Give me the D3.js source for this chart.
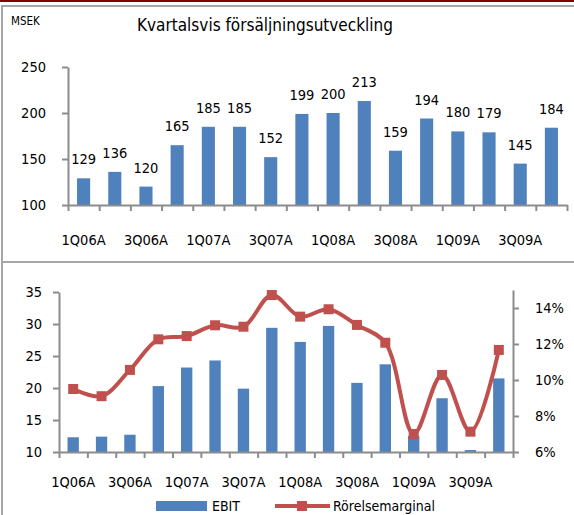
<!DOCTYPE html>
<html>
<head>
<meta charset="utf-8">
<script src="https://cdn.jsdelivr.net/npm/d3@7/dist/d3.min.js"></script>
<style>
  html, body { margin: 0; padding: 0; background: #fff; }
  svg text { font-family: "DejaVu Sans Condensed", "DejaVu Sans", sans-serif; fill: #000; }
  .axis path, .axis line { stroke: #8c8c8c; stroke-width: 2; }
</style>
</head>
<body>
<div id="chart"></div>
<script>
// Data
const quarters = ['1Q06A', '2Q06A', '3Q06A', '4Q06A', '1Q07A', '2Q07A', '3Q07A', '4Q07A',
  '1Q08A', '2Q08A', '3Q08A', '4Q08A', '1Q09A', '2Q09A', '3Q09A', '4Q09A'];
const sales = [129, 136, 120, 165, 185, 185, 152, 199, 200, 213, 159, 194, 180, 179, 145, 184];
const ebit = [12.3, 12.4, 12.7, 20.3, 23.2, 24.3, 19.9, 29.4, 27.2, 29.7, 20.8, 23.7, 12.5, 18.4, 10.3, 21.5];
const margin = [0.095, 0.091, 0.1056, 0.1226, 0.1244, 0.1304, 0.1296, 0.1472,
  0.1352, 0.1393, 0.1306, 0.1207, 0.070, 0.1028, 0.0713, 0.1167];
const salesTicks = [100, 150, 200, 250];
const ebitTicks = [10, 15, 20, 25, 30, 35];
const marginTicks = [0.06, 0.08, 0.10, 0.12, 0.14];

const W = 574;
const H = 515;
const barColor = '#4f81bd';
const lineColor = '#c0504d';
const fs = '14.5px';

const svg = d3.select('#chart').append('svg')
  .attr('width', W)
  .attr('height', H);

// frame: red rule on top, grey box, divider between the panels
svg.append('rect').attr('x', 0).attr('y', 0).attr('width', W).attr('height', 2).attr('fill', '#7f0000');
svg.append('path')
  .attr('d', `M${W},6 H2 V${H}`)
  .attr('fill', 'none').attr('stroke', '#a6a6a6').attr('stroke-width', 2);
svg.append('line')
  .attr('x1', 2).attr('x2', W).attr('y1', 262).attr('y2', 262)
  .attr('stroke', '#a6a6a6').attr('stroke-width', 2);

// ---------- top panel: sales ----------
svg.append('text').attr('x', 11).attr('y', 25).style('font-size', '11.5px').text('MSEK');
svg.append('text').attr('x', 265).attr('y', 31).attr('text-anchor', 'middle')
  .style('font-size', '17px').text('Kvartalsvis försäljningsutveckling');

const x1 = d3.scaleBand().domain(quarters).range([68, 567]).paddingInner(0.58).paddingOuter(0.29);
const slot1 = d3.scaleLinear().domain([0, quarters.length]).range([68, 567]);
const y1 = d3.scaleLinear().domain([100, 250]).range([205, 67]);

svg.selectAll('.sbar').data(sales).enter().append('rect')
  .attr('class', 'sbar')
  .attr('x', (d, i) => x1(quarters[i]))
  .attr('width', x1.bandwidth())
  .attr('y', (d) => y1(d))
  .attr('height', (d) => y1(100) - y1(d))
  .attr('fill', barColor);

svg.selectAll('.slabel').data(sales).enter().append('text')
  .attr('class', 'slabel')
  .attr('x', (d, i) => x1(quarters[i]) + x1.bandwidth() / 2)
  .attr('y', (d) => y1(d) - 14)
  .attr('text-anchor', 'middle')
  .style('font-size', fs)
  .text((d) => d);

const gy1 = svg.append('g').attr('class', 'axis').attr('transform', 'translate(68,0)')
  .call(d3.axisLeft(y1).tickValues(salesTicks).tickSize(6).tickPadding(16).tickSizeOuter(0));
gy1.selectAll('text').style('font-size', fs);

svg.append('g').attr('class', 'axis').attr('transform', 'translate(0,205)')
  .call(d3.axisBottom(slot1).tickValues(d3.range(quarters.length + 1)).tickSize(6).tickFormat('').tickSizeOuter(0));

const gx1 = svg.append('g').attr('transform', 'translate(0,205)')
  .call(d3.axisBottom(x1).tickSize(0).tickPadding(30).tickFormat((d, i) => (i % 2 ? '' : d)));
gx1.select('.domain').remove();
gx1.selectAll('text').style('font-size', fs);

// ---------- bottom panel: EBIT and margin ----------
const x2 = d3.scaleBand().domain(quarters).range([59, 513]).paddingInner(0.6).paddingOuter(0.3);
const slot2 = d3.scaleLinear().domain([0, quarters.length]).range([59, 513]);
const y2 = d3.scaleLinear().domain([10, 35]).range([452, 292]);
const yR = d3.scaleLinear().domain([0.06, 0.15]).range([452, 290]);

svg.selectAll('.ebar').data(ebit).enter().append('rect')
  .attr('class', 'ebar')
  .attr('x', (d, i) => x2(quarters[i]))
  .attr('width', x2.bandwidth())
  .attr('y', (d) => y2(d))
  .attr('height', (d) => y2(10) - y2(d))
  .attr('fill', barColor);

const gy2 = svg.append('g').attr('class', 'axis').attr('transform', 'translate(59,0)')
  .call(d3.axisLeft(y2).tickValues(ebitTicks).tickSize(6).tickPadding(11).tickSizeOuter(0));
gy2.selectAll('text').style('font-size', fs);

const gyR = svg.append('g').attr('class', 'axis').attr('transform', 'translate(513,0)')
  .call(d3.axisRight(yR).tickValues(marginTicks).tickSize(6).tickPadding(16)
    .tickSizeOuter(0).tickFormat(d3.format('.0%')));
gyR.selectAll('text').style('font-size', fs);

svg.append('g').attr('class', 'axis').attr('transform', 'translate(0,452)')
  .call(d3.axisBottom(slot2).tickValues(d3.range(quarters.length + 1)).tickSize(6).tickFormat('').tickSizeOuter(0));

const gx2 = svg.append('g').attr('transform', 'translate(0,452)')
  .call(d3.axisBottom(x2).tickSize(0).tickPadding(25).tickFormat((d, i) => (i % 2 ? '' : d)));
gx2.select('.domain').remove();
gx2.selectAll('text').style('font-size', fs);

const cx = (i) => x2(quarters[i]) + x2.bandwidth() / 2;
const line = d3.line()
  .x((d, i) => cx(i))
  .y((d) => yR(d))
  .curve(d3.curveCatmullRom.alpha(0.5));

svg.append('path').datum(margin)
  .attr('d', line)
  .attr('fill', 'none')
  .attr('stroke', lineColor)
  .attr('stroke-width', 4)
  .attr('stroke-linejoin', 'round');

svg.selectAll('.mk').data(margin).enter().append('rect')
  .attr('class', 'mk')
  .attr('x', (d, i) => cx(i) - 5)
  .attr('y', (d) => yR(d) - 5)
  .attr('width', 10)
  .attr('height', 10)
  .attr('fill', lineColor);

// legend
const lg = svg.append('g');
lg.append('rect').attr('x', 156).attr('y', 501).attr('width', 51).attr('height', 10).attr('fill', barColor);
lg.append('text').attr('x', 212).attr('y', 511).style('font-size', '14px').text('EBIT');
lg.append('line').attr('x1', 275).attr('x2', 330).attr('y1', 506).attr('y2', 506)
  .attr('stroke', lineColor).attr('stroke-width', 4);
lg.append('rect').attr('x', 297).attr('y', 501).attr('width', 10).attr('height', 10).attr('fill', lineColor);
lg.append('text').attr('x', 333).attr('y', 511).style('font-size', '14px').text('Rörelsemarginal');
</script>
</body>
</html>
